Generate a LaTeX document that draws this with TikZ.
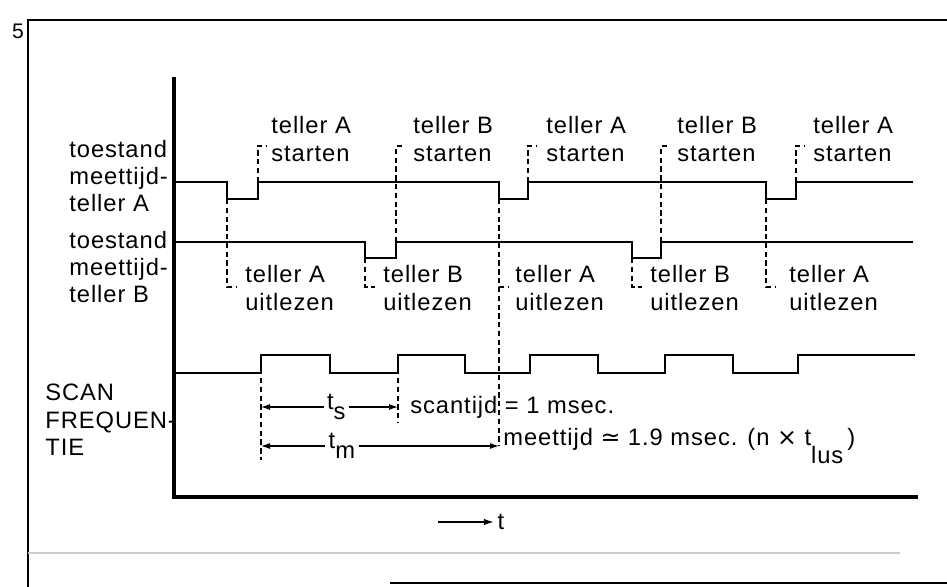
\documentclass[tikz,border=0pt]{standalone}
\usepackage{fontspec}
\setmainfont[LetterSpace=4]{Liberation Sans}
\newfontfamily\symfont{DejaVu Sans}
\usetikzlibrary{arrows.meta}

\begin{document}
\begin{tikzpicture}[x=0.02cm,y=-0.02cm,
        signal/.style={line width=1.4pt},
        marker/.style={line width=0.6pt,dash pattern=on 3pt off 2pt},
        dimline/.style={line width=0.6pt,{Latex[length=1.8mm,width=1.2mm]}-{Latex[length=1.8mm,width=1.2mm]}},
        lbl/.style={inner sep=0pt,align=left,font=\fontsize{13.5}{15.6}\selectfont}]
    \useasboundingbox (0,0) rectangle (947,587);
    % kader
    \draw [line width=1.1pt] (28,587) -- (28,20) -- (947,20);
    \path (18,31) node (fig) [inner sep=0pt,font=\fontsize{12}{14}\selectfont] {5};
    \draw [gray!40,line width=0.8pt] (28,553) -- (900,553);
    \draw [line width=1pt] (390,583) -- (947,583);
    % assen
    \draw [line width=1.8pt] (174,77) -- (174,497) -- (918,497);
    \coordinate (tstart) at (438,522);
    \path (501,522) node (tas) [lbl] {t};
    \draw [line width=0.8pt,-{Latex[length=2mm,width=1.3mm]}] (tstart) -- ([xshift=-2pt]tas.west);
    \begin{scope}[shift={(0,182)}]
        \path (69,-6) node (labA) [lbl,anchor=west] {toestand\\meettijd-\\teller A};
        \draw [signal] (176,0) -- (227,0) -- (227,17) -- (258,17) -- (258,0) -- (499,0) -- (499,17) -- (528,17) -- (528,0) -- (766,0) -- (766,17) -- (796,17) -- (796,0) -- (913,0);
    \end{scope}
    \begin{scope}[shift={(0,242)}]
        \path (69,25) node (labB) [lbl,anchor=west] {toestand\\meettijd-\\teller B};
        \draw [signal] (176,0) -- (365,0) -- (365,16) -- (396,16) -- (396,0) -- (632,0) -- (632,16) -- (661,16) -- (661,0) -- (913,0);
    \end{scope}
    \begin{scope}[shift={(0,373)}]
        \path (45,47) node (labS) [lbl,anchor=west] {SCAN\\FREQUEN-\\TIE};
        \draw [signal] (176,0) -- (261,0) -- (261,-18) -- (330,-18) -- (330,0) -- (398,0) -- (398,-18) -- (465,-18) -- (465,0) -- (530,0) -- (530,-18) -- (598,-18) -- (598,0) -- (665,0) -- (665,-18) -- (733,-18) -- (733,0) -- (798,0) -- (798,-18) -- (915,-18);
    \end{scope}
    % starten
    \coordinate (sA1) at (258,182); \coordinate (sA1t) at (266,146);
    \coordinate (sB1) at (396,242); \coordinate (sB1t) at (404,146);
    \coordinate (sA2) at (528,182); \coordinate (sA2t) at (536,146);
    \coordinate (sB2) at (661,242); \coordinate (sB2t) at (669,146);
    \coordinate (sA3) at (796,182); \coordinate (sA3t) at (804,146);
    \draw [marker] (sA1) |- (sA1t);
    \draw [marker] (sB1) |- (sB1t);
    \draw [marker] (sA2) |- (sA2t);
    \draw [marker] (sB2) |- (sB2t);
    \draw [marker] (sA3) |- (sA3t);
    \path (271,139) node (stA1) [lbl,anchor=west] {teller A\\starten};
    \path (413,139) node (stB1) [lbl,anchor=west] {teller B\\starten};
    \path (546,139) node (stA2) [lbl,anchor=west] {teller A\\starten};
    \path (677,139) node (stB2) [lbl,anchor=west] {teller B\\starten};
    \path (813,139) node (stA3) [lbl,anchor=west] {teller A\\starten};
    % uitlezen
    \coordinate (rA1) at (227,199); \coordinate (rA1b) at (237,287);
    \coordinate (rB1) at (365,258); \coordinate (rB1b) at (375,287);
    \coordinate (rA2) at (499,199); \coordinate (rA2b) at (509,287);
    \coordinate (rB2) at (632,258); \coordinate (rB2b) at (642,287);
    \coordinate (rA3) at (766,199); \coordinate (rA3b) at (776,287);
    \draw [marker] (rA1) |- (rA1b);
    \draw [marker] (rB1) |- (rB1b);
    \draw [marker] (rA2) |- (rA2b);
    \draw [marker] (rB2) |- (rB2b);
    \draw [marker] (rA3) |- (rA3b);
    \path (245,288) node (ulA1) [lbl,anchor=west] {teller A\\uitlezen};
    \path (383,288) node (ulB1) [lbl,anchor=west] {teller B\\uitlezen};
    \path (515,288) node (ulA2) [lbl,anchor=west] {teller A\\uitlezen};
    \path (650,288) node (ulB2) [lbl,anchor=west] {teller B\\uitlezen};
    \path (789,288) node (ulA3) [lbl,anchor=west] {teller A\\uitlezen};
    % scantijd en meettijd
    \coordinate (ts1) at (261,407); \coordinate (ts2) at (398,407);
    \coordinate (tm1) at (261,446); \coordinate (tm2) at (499,446);
    \draw [marker] (261,378) -- (261,460);
    \draw [marker] (398,378) -- (ts2) -- (398,423);
    \draw [marker] (rA2b -| rA2) -- (tm2);
    \draw [dimline] (ts1) -- node [pos=0.55,fill=white,inner sep=2pt] (tsl) {\fontsize{13.5}{15}\selectfont t\raisebox{-0.8ex}{s}} (ts2);
    \draw [dimline] (tm1) -- node [pos=0.34,fill=white,inner sep=2pt] (tml) {\fontsize{13.5}{15}\selectfont t\raisebox{-0.8ex}{m}} (tm2);
    \path (410,407) node (scan) [lbl,anchor=west] {scantijd = 1 msec.};
    \path (503,446) node (meet) [lbl,anchor=west] {meettijd {\symfont ≃} 1.9 msec. (n {\symfont ×} t\raisebox{-1.5ex}{lus}\,)};
\end{tikzpicture}
\end{document}
